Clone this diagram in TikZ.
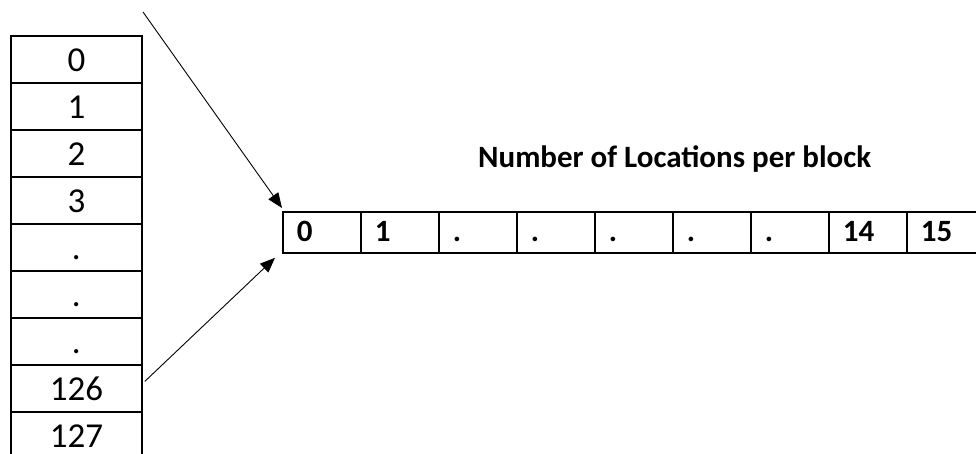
\documentclass[tikz,border=0pt]{standalone}
\usepackage{fontspec}
\setmainfont{Carlito}
\usetikzlibrary{arrows.meta}
\newcommand{\cellpad}[1]{\makebox[78pt][l]{\hspace*{14pt}#1}}
\begin{document}
\begin{tikzpicture}[x=1pt,y=-1pt,
  colcell/.style={draw, line width=1.8pt, minimum width=131pt, minimum height=47pt,
    inner sep=0pt, anchor=north west, font=\fontsize{35}{35}\selectfont,
    text height=25pt, text depth=0pt},
  rowcell/.style={draw, line width=1.8pt, minimum width=78pt, minimum height=41pt,
    inner sep=0pt, anchor=north west, font=\fontsize{31}{31}\selectfont\bfseries,
    text height=19pt, text depth=0pt},
  title/.style={inner sep=0pt, anchor=base west, font=\fontsize{31}{31}\selectfont\bfseries},
  pointer/.style={line width=0.9pt, -{Triangle[length=15pt,width=12pt]}}
]
\useasboundingbox (0,0) rectangle (976,453);
% left column
\node[colcell] (c0) at (10,35) {0};
\node[colcell] (c1) at (10,82) {1};
\node[colcell] (c2) at (10,129) {2};
\node[colcell] (c3) at (10,176) {3};
\node[colcell] (c4) at (10,223) {.};
\node[colcell] (c5) at (10,270) {.};
\node[colcell] (c6) at (10,317) {.};
\node[colcell] (c7) at (10,364) {126};
\node[colcell] (c8) at (10,411) {127};
% row of locations
\node[rowcell] (r0) at (282,211) {\cellpad{0}};
\node[rowcell] (r1) at (360,211) {\cellpad{1}};
\node[rowcell] (r2) at (438,211) {\cellpad{.}};
\node[rowcell] (r3) at (516,211) {\cellpad{.}};
\node[rowcell] (r4) at (594,211) {\cellpad{.}};
\node[rowcell] (r5) at (672,211) {\cellpad{.}};
\node[rowcell] (r6) at (750,211) {\cellpad{.}};
\node[rowcell] (r7) at (828,211) {\cellpad{14}};
\node[rowcell] (r8) at (906,211) {\cellpad{15}};
% title
\node[title] (t) at (478,167) {Number of Locations per block};
% arrows
\coordinate (s1) at (143,12);
\coordinate (s2) at ([shift={(2,-7)}]c7.east);
\draw[pointer] (s1) -- ([shift={(0,-3)}]r0.north west);
\draw[pointer] (s2) -- ([shift={(-7,4)}]r0.south west);
\end{tikzpicture}
\end{document}
